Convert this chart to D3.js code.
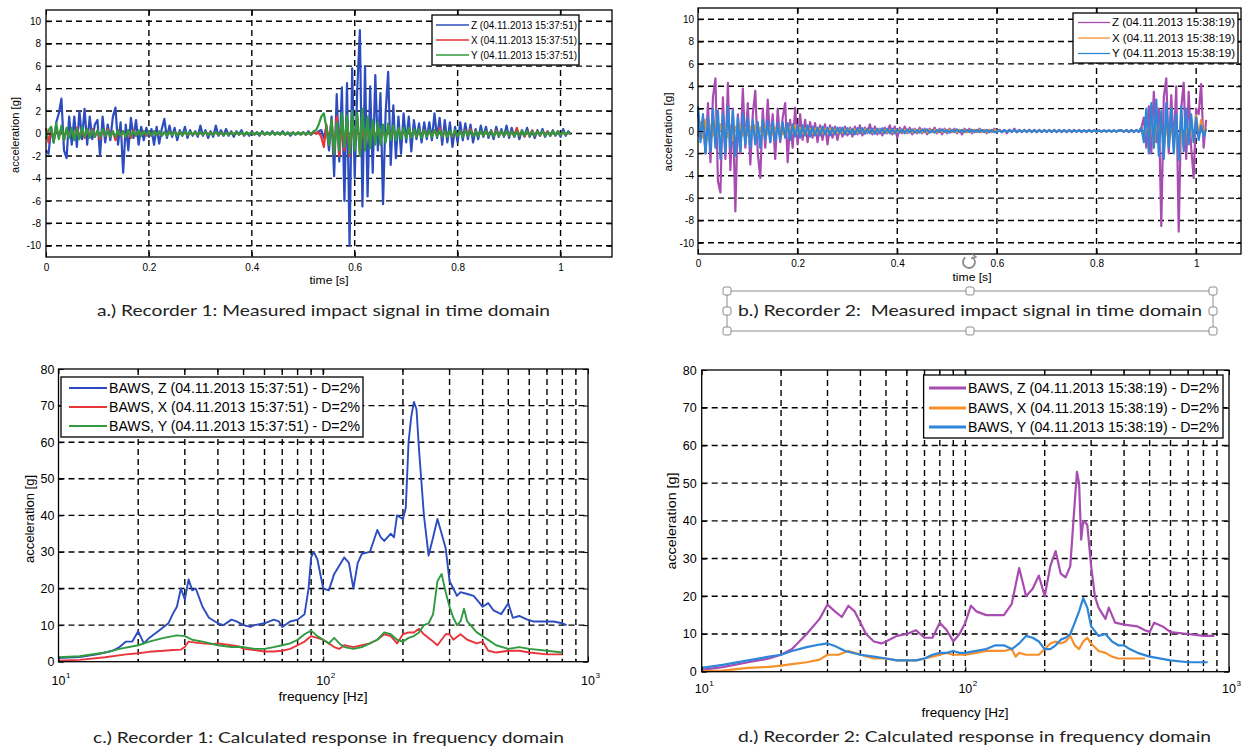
<!DOCTYPE html>
<html>
<head>
<meta charset="utf-8">
<script src="https://cdn.jsdelivr.net/npm/d3@7"></script>
<style>
body { margin: 0; background: #fff; }
svg { display: block; }
</style>
</head>
<body>
<svg id="fig" width="1245" height="747"></svg>
<script>
// ---- data ----
const dt = 0.005; // sample step of the time signals [s]

// Recorder 1, time domain
const rec1Z = [
  -1.5,-1.8,0.5,-0.8,1.0,1.8,3.1,-1.5,-2.2,1.5,
  -1.0,1.5,-1.2,2.0,-0.5,2.2,-1.0,1.5,-0.5,0.8,
  1.2,-2.0,1.5,-0.8,0.8,-0.6,1.5,2.3,-1.0,1.0,
  -3.5,0.8,-1.5,1.4,-0.4,1.2,-1.0,0.6,-0.6,0.5,
  -0.3,0.4,-1.0,0.6,-0.9,0.4,1.3,-0.4,0.7,-0.3,
  0.5,-0.6,0.3,-0.2,0.6,-0.4,0.3,-0.2,0.2,-0.3,
  0.7,-0.2,0.3,-0.4,0.2,-0.3,0.7,-0.2,0.3,-0.2,
  0.4,-0.2,0.2,-0.3,0.2,-0.1,0.3,-0.2,0.1,-0.2,
  0.2,-0.1,0.1,-0.2,0.2,-0.1,0.1,-0.1,0.2,-0.1,
  0.1,-0.1,0.2,-0.1,0.1,-0.2,0.1,-0.1,0.1,-0.1,
  0.1,-0.1,0.2,-0.1,0.1,0.0,0.2,0.3,-0.4,0.6,
  -1.5,1.5,-3.8,3.5,-2.5,4.1,-6.0,4.5,-10.0,5.8,
  -4.0,4.0,9.2,-6.5,6.0,-5.6,4.2,-3.5,5.2,-1.5,
  3.6,-6.3,1.8,5.5,-2.8,2.5,-2.2,1.5,-1.8,1.8,
  -0.8,1.5,-1.6,1.2,-0.5,0.9,-0.8,1.0,-0.5,1.0,
  -0.6,1.8,-0.4,1.4,-1.0,1.2,-0.8,1.0,-1.2,0.6,
  -0.8,1.0,-0.6,0.9,-0.5,0.8,-0.8,0.4,-0.5,0.7,
  -0.3,0.6,-0.4,0.3,-0.5,0.6,-0.3,0.4,-0.3,0.7,
  -0.4,0.5,-0.3,0.4,-0.5,0.3,-0.2,0.5,-0.3,0.2,
  -0.4,0.3,-0.2,0.4,-0.3,0.2,-0.2,0.3,-0.2,0.2,
  -0.3,0.4,-0.2,0.2,-0.1
];
const rec1X = [
  0.5,-0.8,0.3,-0.5,0.4,-0.3,0.5,-0.6,0.4,-0.3,
  0.3,-0.4,0.5,-0.3,0.2,-0.4,0.3,-0.2,0.4,-0.3,
  0.2,-0.5,0.3,-0.2,0.4,-0.3,0.2,-0.6,0.3,-0.2,
  0.2,-0.3,0.2,-0.4,0.3,-0.2,0.2,-0.1,0.2,-0.2,
  0.1,-0.2,0.2,-0.1,0.1,-0.2,0.1,-0.1,0.2,-0.1,
  0.1,-0.1,0.1,-0.1,0.1,-0.1,0.1,-0.1,0.1,-0.1,
  0.1,-0.1,0.1,-0.1,0.1,-0.1,0.1,-0.1,0.1,-0.1,
  0.05,-0.1,0.1,-0.05,0.1,-0.1,0.05,-0.1,0.1,-0.05,
  0.05,-0.05,0.1,-0.05,0.05,-0.1,0.05,-0.05,0.1,-0.05,
  0.05,-0.05,0.05,-0.1,0.05,-0.05,0.1,-0.05,0.05,-0.05,
  0.1,-0.1,0.1,-0.1,0.1,0.0,0.1,-0.3,-1.2,0.8,
  -1.0,1.2,-1.8,1.5,-2.0,0.8,-1.5,1.2,-2.0,1.0,
  -1.0,1.5,-1.8,0.8,-1.2,0.6,-0.8,0.7,-0.5,0.6,
  -0.6,0.4,-0.5,0.5,-0.4,0.3,-0.3,0.4,-0.3,0.2,
  -0.3,0.3,-0.2,0.3,-0.3,0.2,-0.2,0.3,-0.2,0.2,
  -0.2,0.3,-0.2,0.5,-0.3,0.2,-0.2,0.2,-0.3,0.2,
  -0.2,0.2,-0.2,0.3,-0.2,0.4,-0.2,0.2,-0.2,0.2,
  -0.2,0.2,-0.1,0.2,-0.2,0.3,-0.2,0.2,-0.2,0.2,
  -0.2,0.2,-0.2,0.5,-0.2,0.2,-0.3,0.2,-0.2,0.3,
  -0.2,0.2,-0.2,0.2,-0.1,0.2,-0.2,0.1,-0.1,0.2,
  -0.1,0.1,-0.1,0.1,0.0
];
const rec1Y = [
  -0.5,0.3,0.6,-0.8,0.9,-0.5,0.7,-0.6,0.5,-0.4,
  0.5,-0.6,0.4,-0.5,0.6,-0.3,0.4,-0.4,0.3,-0.3,
  0.3,-0.3,0.4,-0.2,0.3,-0.3,0.2,-0.3,0.3,-0.2,
  0.2,-0.3,0.3,-0.2,0.2,-0.2,0.3,-0.2,0.2,-0.1,
  0.2,-0.2,0.2,-0.15,0.2,-0.2,0.15,-0.2,0.2,-0.15,
  0.15,-0.2,0.15,-0.15,0.2,-0.15,0.15,-0.1,0.15,-0.15,
  0.15,-0.1,0.15,-0.15,0.1,-0.15,0.15,-0.1,0.1,-0.15,
  0.1,-0.15,0.1,-0.1,0.15,-0.1,0.1,-0.1,0.1,-0.1,
  0.1,-0.1,0.1,-0.1,0.1,-0.1,0.1,-0.1,0.1,-0.1,
  0.1,-0.1,0.1,-0.1,0.1,-0.1,0.1,-0.1,0.1,-0.1,
  0.1,-0.1,0.1,-0.1,0.2,0.3,0.8,1.5,1.8,0.5,
  -1.0,1.2,-1.8,1.0,-1.5,1.8,-1.2,1.6,-1.8,2.0,
  -1.5,1.8,-2.0,2.2,-1.5,1.5,-1.3,1.2,-1.0,1.0,
  -1.0,0.8,-0.8,0.9,-0.6,0.7,-0.6,0.5,-0.5,0.5,
  -0.4,0.5,-0.4,0.4,-0.3,0.4,-0.4,0.3,-0.3,0.3,
  -0.3,0.3,-0.25,0.3,-0.3,0.25,-0.3,0.25,-0.25,0.3,
  -0.25,0.25,-0.3,0.25,-0.2,0.3,-0.25,0.2,-0.25,0.25,
  -0.2,0.25,-0.2,0.2,-0.25,0.2,-0.2,0.25,-0.2,0.2,
  -0.2,0.2,-0.25,0.2,-0.2,0.25,-0.2,0.2,-0.2,0.2,
  -0.2,0.2,-0.15,0.2,-0.2,0.15,-0.2,0.2,-0.15,0.2,
  -0.15,0.15,-0.1,0.1,0.0
];

// Recorder 2, time domain
const rec2Z = [
  1.8,-0.5,1.2,-2.0,2.5,-2.8,3.0,4.7,-4.5,-5.5,
  3.0,-2.5,4.3,-3.5,2.0,-7.2,1.5,-2.0,3.8,-1.5,
  2.5,-3.0,1.5,3.6,-2.0,-4.2,2.0,-1.5,2.8,-1.0,
  1.5,-2.5,2.0,-1.0,1.2,2.5,-2.8,1.0,-1.5,2.1,
  -1.2,1.5,-0.8,1.0,-1.0,0.8,-0.6,0.7,-1.0,0.5,
  -0.8,0.6,-1.2,0.5,-0.6,0.4,-0.8,0.3,-0.5,0.4,
  -0.4,0.3,-0.5,0.4,-0.3,0.5,-0.4,0.3,-0.2,0.6,
  -0.3,0.4,-0.3,0.2,-0.4,0.3,-0.2,0.5,-0.3,0.4,
  -0.6,0.3,-0.2,0.4,-0.2,0.3,-0.3,0.2,-0.2,0.3,
  -0.2,0.2,-0.3,0.2,-0.1,0.3,-0.2,0.2,-0.3,0.2,
  -0.2,0.2,-0.1,0.2,-0.2,0.1,-0.3,0.2,-0.1,0.2,
  -0.2,0.1,-0.1,0.2,-0.1,0.1,-0.2,0.1,-0.1,0.2,
  -0.1,0.1,-0.1,0.1,-0.2,0.1,-0.1,0.2,-0.1,0.1,
  -0.1,0.1,-0.1,0.1,-0.1,0.1,-0.1,0.1,-0.1,0.1,
  -0.1,0.1,-0.1,0.1,-0.1,0.1,-0.1,0.1,-0.1,0.1,
  -0.1,0.1,-0.05,0.1,-0.1,0.05,-0.1,0.1,-0.05,0.05,
  -0.05,0.05,-0.05,0.05,-0.05,0.05,-0.05,0.05,-0.05,0.05,
  0.05,-0.05,0.1,-0.1,0.1,-0.1,0.1,-0.1,0.3,1.2,
  -1.5,2.2,-2.0,3.5,-1.0,2.0,-8.5,3.0,4.7,-2.0,
  3.2,-1.5,4.0,-9.0,2.0,4.3,-2.5,3.5,-1.5,-4.2,
  2.0,1.5,4.2,-1.5,1.0
];
const rec2X = [
  -0.5,0.8,-0.6,1.0,-0.8,0.5,-0.4,0.8,-0.5,0.6,
  -0.6,0.4,-0.5,0.5,-0.8,0.4,-0.3,0.6,-0.4,0.3,
  -0.4,0.4,-0.3,0.5,-0.4,0.3,-0.3,0.4,-0.3,0.3,
  -0.3,0.3,-0.2,0.3,-0.3,0.2,-0.2,0.4,-0.2,0.5,
  -0.2,0.3,-0.2,0.2,-0.2,0.2,-0.2,0.2,-0.2,0.2,
  -0.2,0.2,-0.15,0.2,-0.15,0.15,-0.2,0.15,-0.15,0.15,
  -0.15,0.15,-0.1,0.15,-0.15,0.1,-0.1,0.15,-0.1,0.1,
  -0.1,0.1,-0.1,0.1,-0.1,0.1,-0.1,0.1,-0.1,0.1,
  -0.1,0.1,-0.05,0.1,-0.1,0.05,-0.1,0.1,-0.05,0.1,
  -0.1,0.05,-0.1,0.1,-0.05,0.1,-0.1,0.05,-0.1,0.1,
  -0.05,0.1,-0.1,0.05,-0.1,0.1,-0.05,0.1,-0.1,0.05,
  -0.1,0.1,-0.05,0.1,-0.1,0.05,-0.1,0.1,-0.05,0.1,
  -0.05,0.05,-0.1,0.05,-0.05,0.1,-0.05,0.05,-0.1,0.05,
  -0.05,0.1,-0.05,0.05,-0.1,0.05,-0.05,0.1,-0.05,0.05,
  -0.05,0.05,-0.05,0.1,-0.05,0.05,-0.05,0.05,-0.1,0.05,
  -0.05,0.05,-0.05,0.05,-0.05,0.05,-0.05,0.05,-0.05,0.05,
  -0.05,0.05,-0.05,0.05,-0.05,0.05,-0.05,0.05,-0.05,0.05,
  0.05,-0.05,0.05,-0.05,0.05,-0.05,0.05,-0.05,0.3,-0.6,
  0.8,-1.0,1.2,-1.5,1.0,-0.8,1.0,-1.8,0.8,-1.2,
  0.6,-1.0,1.0,-2.5,1.0,-1.5,0.8,-1.0,0.6,-1.0,
  1.4,-0.5,1.0,-0.4,0.3
];
const rec2Y = [
  2.2,-1.0,1.5,-2.0,1.2,-1.8,2.0,-1.5,1.8,-2.5,
  1.5,-2.0,2.2,-1.5,1.8,-2.2,1.2,-1.8,1.5,-1.2,
  1.2,-1.5,1.0,-1.2,0.8,-1.5,1.0,-0.8,0.9,-1.0,
  0.8,-0.9,0.7,-0.8,0.8,-0.6,0.7,-0.8,0.6,-0.5,
  0.5,-0.6,0.5,-0.4,0.5,-0.5,0.4,-0.4,0.3,-0.4,
  0.4,-0.3,0.3,-0.4,0.3,-0.3,0.3,-0.2,0.3,-0.3,
  0.25,-0.25,0.2,-0.3,0.25,-0.2,0.25,-0.25,0.2,-0.2,
  0.2,-0.25,0.2,-0.2,0.25,-0.2,0.2,-0.2,0.2,-0.2,
  0.15,-0.15,0.15,-0.2,0.15,-0.15,0.15,-0.15,0.1,-0.15,
  0.15,-0.1,0.15,-0.15,0.1,-0.15,0.1,-0.1,0.15,-0.1,
  0.1,-0.15,0.1,-0.1,0.15,-0.1,0.1,-0.1,0.1,-0.1,
  0.1,-0.1,0.1,-0.1,0.1,-0.1,0.1,-0.1,0.1,-0.1,
  -0.08,0.08,-0.1,0.08,-0.08,0.1,-0.08,0.08,-0.1,0.08,
  -0.08,0.08,-0.08,0.1,-0.08,0.08,-0.1,0.08,-0.08,0.08,
  -0.08,0.08,-0.08,0.08,-0.08,0.08,-0.08,0.08,-0.08,0.08,
  -0.06,0.06,-0.06,0.06,-0.06,0.06,-0.06,0.06,-0.06,0.06,
  -0.06,0.06,-0.06,0.06,-0.06,0.06,-0.06,0.06,-0.06,0.06,
  0.08,-0.08,0.08,-0.08,0.08,-0.08,0.08,-0.08,0.3,-1.0,
  2.0,-2.0,2.5,-1.5,2.8,-2.2,1.8,-2.5,2.5,-1.5,
  2.0,-2.0,1.5,-2.6,2.2,-1.8,2.0,-1.2,1.5,-1.0,
  1.2,-0.8,0.5,-0.5,0.2
];

// Recorder 1, response spectra
const freq1Z = [10,12,14,16,17,18,19,20,21,22,24,26,27,28,29,30,31,32,33,35,37,40,42,45,47,50,53,55,60,65,68,70,75,80,85,88,90,92,95,100,105,110,120,125,130,135,140,150,160,165,170,180,185,190,200,205,210,215,220,225,230,240,250,260,270,280,290,300,310,320,330,350,370,390,400,420,440,470,500,520,550,590,620,680,740,800,830];
const resp1Z = [1.0,1.3,2.0,3.0,4.0,5.5,5.5,8.3,5.0,6.5,8.5,10.5,13,15,20,17,22.5,19.5,20,15,12,10.5,10,11.5,11,10,9.5,10,10.5,11.5,11,9.5,11,11.5,13,20,28.5,30,28,20,19.5,24,28.5,27,20,27,29.5,30,36,34,33,35,34,40,39,42,60,67,71,69,58,40,29,34,39,35,31,22,20,18,19,18.5,18,16,15,16,14,13,16,12,12.5,11.5,11,11,11,10.5,10];
const freq1X = [10,12,15,18,20,22,25,27,29,30,31,33,35,38,40,45,48,50,55,60,65,70,75,80,85,90,95,100,110,115,120,130,140,150,160,170,180,190,200,210,220,230,240,250,260,270,290,300,310,330,350,380,400,420,450,500,550,600,700,800];
const resp1X = [0.3,0.5,1.2,2.0,2.3,2.7,3.0,3.2,3.3,4.0,5.5,5.2,5.0,4.8,5.0,4.5,4.2,3.5,3.2,2.8,2.8,3.0,3.5,4.5,5.5,7.0,6.5,6.0,4.0,3.5,4.5,4.0,4.5,5.0,6.0,7.5,7.0,5.0,7.5,8.0,8.0,9.0,7.5,6.5,5.5,4.5,7.5,7.5,6.0,7.5,6.0,5.0,5.5,3.0,2.5,3.0,3.0,2.5,2.0,2.0];
const freq1Y = [10,12,15,17,20,22,25,28,30,32,35,40,45,50,55,60,65,70,75,80,85,90,95,100,105,110,115,120,130,140,150,160,170,180,190,200,210,220,230,240,250,260,270,280,290,300,310,320,330,340,350,380,400,450,500,550,600,700,800];
const resp1Y = [1.2,1.5,2.5,3.5,4.5,5.5,6.5,7.2,7.0,6.0,5.5,4.5,4.0,4.0,3.5,3.5,4.0,4.5,5.0,6.0,7.5,8.5,7.0,6.0,5.0,6.5,5.0,4.0,3.5,4.0,5.0,6.0,8.0,7.5,6.0,5.5,6.5,7.0,8.0,10.0,10.5,13.0,22.0,24.0,19.0,15.0,12.0,10.0,11.0,14.5,11.0,8.0,7.0,4.5,3.5,4.0,3.5,3.0,2.5];

// Recorder 2, response spectra
const freq2Z = [10,12,15,18,20,22,25,28,30,32,34,36,38,40,42,45,48,50,55,60,65,70,75,80,85,90,95,100,105,110,120,130,140,150,160,170,180,190,200,210,220,230,240,250,260,265,270,275,280,290,300,310,320,340,350,370,400,450,480,500,520,560,600,700,800,880];
const resp2Z = [0.5,1.2,2.5,3.5,4.5,6.0,10.0,14.0,17.8,16.0,14.5,17.5,16.0,13.0,10.0,8.0,7.5,8.0,9.5,10.0,11.0,9.0,9.0,13.0,11.0,8.0,10.0,13.0,17.5,16.0,15.0,15.0,15.0,18.0,27.5,20.0,22.0,25.5,20.0,28.0,32.0,26.0,25.0,28.0,45.0,53.0,50.0,35.0,40.0,39.0,28.0,20.0,17.0,14.0,17.0,13.0,12.5,12.0,11.0,10.5,13.0,12.0,10.5,10.0,9.5,9.5];
const freq2X = [10,12,15,18,20,22,25,28,30,33,36,38,40,45,50,55,60,65,70,75,80,85,90,100,110,120,130,140,150,155,160,170,180,190,200,210,220,230,240,250,260,270,280,290,300,320,340,360,380,400,450,480];
const resp2X = [0.1,0.3,1.0,1.3,1.6,2.0,2.5,3.2,4.5,4.5,5.5,5.0,4.5,3.5,3.5,3.0,3.0,3.0,3.5,4.0,4.5,5.0,4.5,4.5,5.0,5.5,5.5,5.5,6.0,4.0,5.0,4.5,4.5,4.5,6.0,7.5,8.0,7.5,8.0,9.5,7.0,6.0,8.0,9.0,7.5,5.5,5.0,4.0,3.5,3.5,3.5,3.5];
const freq2Y = [10,12,15,18,20,22,25,28,30,32,35,40,45,50,55,60,65,70,75,80,85,90,95,100,110,120,130,140,150,160,170,180,190,200,210,220,230,240,250,260,270,280,290,300,320,340,360,380,400,420,450,500,600,700,830];
const resp2Y = [1.0,1.8,3.0,4.0,4.5,5.5,6.5,7.2,7.5,6.8,5.5,4.5,4.0,3.5,3.0,3.0,3.0,3.5,4.5,5.0,5.0,5.5,5.0,5.0,5.5,6.0,7.0,7.0,6.0,7.5,9.5,9.0,8.0,6.0,6.0,7.0,8.5,9.0,10.0,13.0,16.0,19.5,17.0,12.0,9.5,10.0,8.0,7.0,7.0,6.0,5.0,4.0,3.0,2.5,2.5];

// ticks and labels
const timeTicks = [0, 0.2, 0.4, 0.6, 0.8, 1];
const timeAccTicks = [-10, -8, -6, -4, -2, 0, 2, 4, 6, 8, 10];
const freqTicks = [10, 100, 1000];
const freqGrid = [20, 30, 40, 50, 60, 70, 80, 90, 100, 200, 300, 400, 500, 600, 700, 800, 900];
const respTicks = [0, 10, 20, 30, 40, 50, 60, 70, 80];
const stamp1 = '04.11.2013 15:37:51';
const stamp2 = '04.11.2013 15:38:19';
const captions = [
  'a.) Recorder 1: Measured impact signal in time domain',
  'b.) Recorder 2:  Measured impact signal in time domain',
  'c.) Recorder 1: Calculated response in frequency domain',
  'd.) Recorder 2: Calculated response in frequency domain'
];

const C1 = { z: '#2c4cbf', x: '#e8353a', y: '#2f9a3f' };
const C2 = { z: '#a84cb2', x: '#f5902c', y: '#2f86d8' };
const FONT = '"Liberation Sans", Arial, sans-serif';

const svg = d3.select('#fig');
svg.append('rect').attr('width', 1245).attr('height', 747).attr('fill', '#fff');

function styleAxis(sel, fs) {
  sel.attr('font-family', FONT).attr('font-size', fs);
  sel.select('.domain').remove();
  sel.selectAll('.tick line').attr('stroke', '#000').attr('stroke-width', 1);
  sel.selectAll('.tick text').attr('fill', '#000');
}

function drawPanel(p) {
  const g = svg.append('g');
  const x = p.log
    ? d3.scaleLog().domain([10, 1000]).range([p.l, p.r])
    : d3.scaleLinear().domain([0, p.xMax]).range([p.l, p.r]);
  const y = d3.scaleLinear().domain(p.yDom).range([p.b, p.t]);

  // dashed grid
  const grid = g.append('g').attr('stroke', '#000').attr('stroke-width', 1.4)
    .attr('stroke-dasharray', '6,4');
  grid.selectAll('.gx').data(p.xGrid).join('line')
    .attr('x1', d => x(d)).attr('x2', d => x(d)).attr('y1', p.t).attr('y2', p.b);
  grid.selectAll('.gy').data(p.yGrid).join('line')
    .attr('x1', p.l).attr('x2', p.r).attr('y1', d => y(d)).attr('y2', d => y(d));

  // signals
  p.series.forEach(s => {
    const pts = s.v.map((v, i) => [s.x ? s.x[i] : i * dt, v]);
    g.append('path').datum(pts)
      .attr('d', d3.line().x(d => x(d[0])).y(d => y(d[1])))
      .attr('fill', 'none').attr('stroke', s.color)
      .attr('stroke-width', p.lw).attr('stroke-linejoin', 'round');
  });

  // axes, ticks inward on all sides
  g.append('g').attr('transform', `translate(0,${p.b})`)
    .call(d3.axisBottom(x).tickValues(p.xTicks).tickSize(-5).tickPadding(p.xPad)
      .tickFormat(p.log ? () => '' : d => String(d)))
    .call(styleAxis, p.fs);
  g.append('g').attr('transform', `translate(0,${p.t})`)
    .call(d3.axisTop(x).tickValues(p.xTicks).tickSize(-5).tickFormat(() => ''))
    .call(styleAxis, p.fs);
  g.append('g').attr('transform', `translate(${p.l},0)`)
    .call(d3.axisLeft(y).tickValues(p.yTicks).tickSize(-5).tickPadding(p.yPad)
      .tickFormat(d => String(d)))
    .call(styleAxis, p.fs);
  g.append('g').attr('transform', `translate(${p.r},0)`)
    .call(d3.axisRight(y).tickValues(p.yTicks).tickSize(-5).tickFormat(() => ''))
    .call(styleAxis, p.fs);
  if (p.log) {
    // minor ticks
    [p.b, p.t].forEach((yy, k) => {
      g.append('g').selectAll('line').data(freqGrid).join('line')
        .attr('x1', d => x(d)).attr('x2', d => x(d))
        .attr('y1', yy).attr('y2', yy + (k ? 3 : -3))
        .attr('stroke', '#000');
    });
    // 10^n labels
    freqTicks.forEach(v => {
      g.append('text').attr('x', x(v)).attr('y', p.labY)
        .attr('text-anchor', 'middle').attr('font-family', FONT).attr('font-size', p.fs)
        .text('10');
      g.append('text').attr('x', x(v) + p.fs * 0.6).attr('y', p.labY - p.fs * 0.6)
        .attr('font-family', FONT).attr('font-size', p.fs * 0.65)
        .text(Math.round(Math.log10(v)));
    });
  }

  // box
  g.append('rect').attr('x', p.l).attr('y', p.t).attr('width', p.r - p.l).attr('height', p.b - p.t)
    .attr('fill', 'none').attr('stroke', '#000').attr('stroke-width', 1.3);

  // axis titles
  g.append('text').attr('x', p.xlab[0]).attr('y', p.xlab[1]).attr('text-anchor', 'middle')
    .attr('font-family', FONT).attr('font-size', p.xlab[2])
    .attr('textLength', p.xlab[3]).attr('lengthAdjust', 'spacingAndGlyphs')
    .text(p.log ? 'frequency [Hz]' : 'time [s]');
  g.append('text').attr('transform', `translate(${p.ylab[0]},${p.ylab[1]}) rotate(-90)`)
    .attr('text-anchor', 'middle').attr('font-family', FONT).attr('font-size', p.ylab[2])
    .attr('textLength', p.ylab[3]).attr('lengthAdjust', 'spacingAndGlyphs')
    .text('acceleration [g]');

  // legend
  const L = p.legend;
  g.append('rect').attr('x', L.x0).attr('y', L.y0).attr('width', L.x1 - L.x0).attr('height', L.y1 - L.y0)
    .attr('fill', '#fff').attr('stroke', '#000').attr('stroke-width', 1.3);
  p.series.forEach((s, i) => {
    const cy = L.rows[i];
    g.append('line').attr('x1', L.lx[0]).attr('x2', L.lx[1]).attr('y1', cy).attr('y2', cy)
      .attr('stroke', s.color).attr('stroke-width', L.lw);
    g.append('text').attr('x', L.tx).attr('y', cy).attr('dy', '0.36em')
      .attr('font-family', FONT).attr('font-size', L.fs)
      .attr('textLength', L.tw).attr('lengthAdjust', 'spacingAndGlyphs')
      .text(s.label);
  });
}

drawPanel({
  l: 46, r: 612, t: 10, b: 257, xMax: 1.1, yDom: [-11, 11], lw: 2.2, fs: 10,
  xTicks: timeTicks, xGrid: timeTicks.slice(1), yTicks: timeAccTicks, yGrid: timeAccTicks,
  xPad: 7, yPad: 5, xlab: [329, 284, 11, 39], ylab: [18.5, 135, 10.5, 76],
  series: [
    { v: rec1Z, color: C1.z, label: `Z (${stamp1})` },
    { v: rec1X, color: C1.x, label: `X (${stamp1})` },
    { v: rec1Y, color: C1.y, label: `Y (${stamp1})` }
  ],
  legend: { x0: 432, x1: 579, y0: 15, y1: 65, rows: [25, 40, 55], lx: [436, 469], tx: 471, tw: 106, fs: 10, lw: 1.3 }
});

drawPanel({
  l: 698, r: 1241, t: 8, b: 254, xMax: 1.09, yDom: [-11, 11], lw: 2.2, fs: 10,
  xTicks: timeTicks, xGrid: timeTicks.slice(1), yTicks: timeAccTicks, yGrid: timeAccTicks,
  xPad: 6, yPad: 4, xlab: [972, 281, 11, 39], ylab: [672, 132, 10.5, 79],
  series: [
    { v: rec2Z, color: C2.z, label: `Z (${stamp2})` },
    { v: rec2X, color: C2.x, label: `X (${stamp2})` },
    { v: rec2Y, color: C2.y, label: `Y (${stamp2})` }
  ],
  legend: { x0: 1073, x1: 1238, y0: 13, y1: 63, rows: [22.5, 38, 53.5], lx: [1078, 1110], tx: 1112, tw: 123, fs: 10, lw: 1.3 }
});

drawPanel({
  log: true, l: 58.5, r: 588, t: 369, b: 661.7, yDom: [0, 80], lw: 1.9, fs: 12.5,
  xTicks: freqTicks, xGrid: freqGrid, yTicks: respTicks, yGrid: respTicks.slice(1, 8),
  xPad: 14, yPad: 4, labY: 685, xlab: [323, 701, 12, 89], ylab: [34, 519, 12, 88],
  series: [
    { x: freq1Z, v: resp1Z, color: C1.z, label: `BAWS, Z (${stamp1}) - D=2%` },
    { x: freq1X, v: resp1X, color: C1.x, label: `BAWS, X (${stamp1}) - D=2%` },
    { x: freq1Y, v: resp1Y, color: C1.y, label: `BAWS, Y (${stamp1}) - D=2%` }
  ],
  legend: { x0: 61, x1: 363, y0: 377, y1: 437, rows: [388, 407, 426], lx: [69, 107], tx: 109, tw: 251, fs: 14, lw: 2 }
});

drawPanel({
  log: true, l: 701.7, r: 1229, t: 370, b: 671.7, yDom: [0, 80], lw: 2.2, fs: 12.5,
  xTicks: freqTicks, xGrid: freqGrid, yTicks: respTicks, yGrid: respTicks.slice(1, 8),
  xPad: 14, yPad: 5, labY: 693, xlab: [965, 717, 12, 87], ylab: [676, 521, 13, 97],
  series: [
    { x: freq2Z, v: resp2Z, color: C2.z, label: `BAWS, Z (${stamp2}) - D=2%` },
    { x: freq2X, v: resp2X, color: C2.x, label: `BAWS, X (${stamp2}) - D=2%` },
    { x: freq2Y, v: resp2Y, color: C2.y, label: `BAWS, Y (${stamp2}) - D=2%` }
  ],
  legend: { x0: 923.6, x1: 1223, y0: 375, y1: 438, rows: [388, 408, 427], lx: [929, 966], tx: 968, tw: 251, fs: 14, lw: 3 }
});

// captions
const capPos = [[323.5, 316, 453], [970, 316, 464], [328.5, 743, 471], [974.5, 742, 473]];
svg.selectAll('.caption').data(captions).join('text')
  .attr('class', 'caption')
  .attr('x', (d, i) => capPos[i][0]).attr('y', (d, i) => capPos[i][1])
  .attr('text-anchor', 'middle').attr('font-family', 'Lato, "Open Sans", sans-serif')
  .attr('font-size', 16).attr('fill', '#222')
  .attr('textLength', (d, i) => capPos[i][2]).attr('lengthAdjust', 'spacingAndGlyphs')
  .style('white-space', 'pre')
  .text(d => d);

// selection frame around caption b (word-processor handles)
const sel = svg.append('g').attr('stroke', '#8c8c8c').attr('fill', 'none');
sel.append('rect').attr('x', 727).attr('y', 291).attr('width', 486).attr('height', 40).attr('stroke-width', 1);
const hx = [727, 970, 1213], hy = [291, 311, 331];
hx.forEach(xx => hy.forEach(yy => {
  if (xx === 970 && yy === 311) return;
  sel.append('rect').attr('x', xx - 4).attr('y', yy - 4).attr('width', 8).attr('height', 8)
    .attr('rx', 2).attr('fill', '#fff').attr('stroke-width', 1);
}));
// rotate handle
sel.append('path').attr('d', d3.arc()({ innerRadius: 6, outerRadius: 6, startAngle: 0.6, endAngle: 5.6 }))
  .attr('transform', 'translate(969,262)').attr('stroke-width', 1.8);
sel.append('path').attr('d', 'M972,254 l4,3 l-5,1.5').attr('stroke-width', 1.4);
</script>
</body>
</html>
